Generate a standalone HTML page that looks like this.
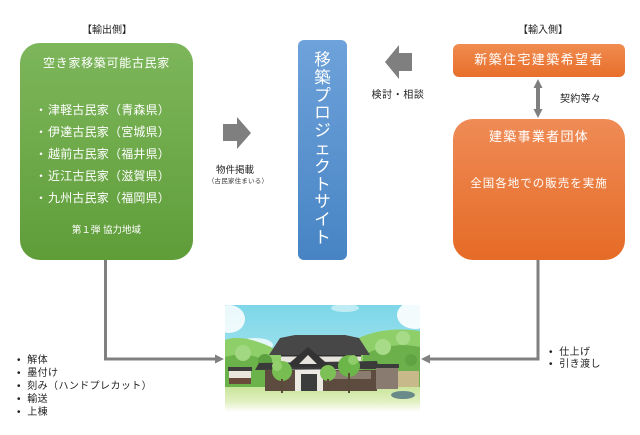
<!DOCTYPE html>
<html><head><meta charset="utf-8">
<style>
html,body{margin:0;padding:0;background:#fff;}
body{width:640px;height:435px;position:relative;overflow:hidden;font-family:"Liberation Sans","Noto Sans CJK JP",sans-serif;}
.a{position:absolute;white-space:nowrap;}
.box{position:absolute;}
.c{position:absolute;text-align:center;white-space:nowrap;}
.w{color:#fff;}
.k{color:#222;}
.li{position:relative;height:22px;}
.li .b{position:absolute;left:0;top:0;}
.li .t{position:absolute;left:13px;top:0;}
</style></head><body>

<svg class="a" style="left:0;top:0" width="640" height="435" viewBox="0 0 640 435">
  <polyline points="105.5,258 105.5,359 216,359" fill="none" stroke="#808080" stroke-width="3"/>
  <polygon points="224,359 215,354.5 215,363.5" fill="#808080"/>
  <polyline points="538,258 538,359 429,359" fill="none" stroke="#808080" stroke-width="3"/>
  <polygon points="421,359 430,354.5 430,363.5" fill="#808080"/>
  <rect x="223" y="124" width="15" height="17" fill="#7f7f7f"/>
  <polygon points="237,117 251,133 237,149" fill="#7f7f7f"/>
  <rect x="398" y="53" width="14" height="18" fill="#7f7f7f"/>
  <polygon points="399,45 385,62 399,79" fill="#7f7f7f"/>
  <rect x="536" y="86" width="4" height="25" fill="#7f7f7f"/>
  <polygon points="538,79 533.5,88 542.5,88" fill="#7f7f7f"/>
  <polygon points="538,118 533.5,109 542.5,109" fill="#7f7f7f"/>
</svg>

<div class="c k" style="left:67px;top:24px;width:80px;font-size:10px;line-height:14px;">【輸出側】</div>
<div class="c k" style="left:503px;top:24px;width:80px;font-size:10px;line-height:14px;">【輸入側】</div>
<div class="c k" style="left:358px;top:89px;width:80px;font-size:10px;line-height:14px;letter-spacing:0.6px;">検討・相談</div>
<div class="a k" style="left:560px;top:93px;font-size:10px;line-height:14px;letter-spacing:0.3px;">契約等々</div>
<div class="c k" style="left:199px;top:164px;width:72px;font-size:9.5px;line-height:13px;">物件掲載</div>
<div class="c" style="left:198px;top:177px;width:80px;font-size:6.5px;line-height:9px;color:#333;letter-spacing:0.2px;">（古民家住まいる）</div>

<!-- green box -->
<div class="box" style="left:20px;top:43px;width:173px;height:217px;border-radius:20px;background:linear-gradient(#7db65b,#5f9d39);"></div>
<div class="c w" style="left:20px;top:55px;width:173px;font-size:12px;line-height:16px;letter-spacing:0.7px;">空き家移築可能古民家</div>
<div class="a w" style="left:35px;top:101px;font-size:12px;line-height:18px;letter-spacing:0.2px;">
<div class="li"><span class="b">・</span><span class="t">津軽古民家（青森県）</span></div>
<div class="li"><span class="b">・</span><span class="t">伊達古民家（宮城県）</span></div>
<div class="li"><span class="b">・</span><span class="t">越前古民家（福井県）</span></div>
<div class="li"><span class="b">・</span><span class="t">近江古民家（滋賀県）</span></div>
<div class="li"><span class="b">・</span><span class="t">九州古民家（福岡県）</span></div>
</div>
<div class="c w" style="left:20px;top:224px;width:173px;font-size:9.5px;line-height:14px;">第１弾 協力地域</div>

<!-- blue box -->
<div class="box" style="left:298px;top:40px;width:49px;height:220px;border-radius:6px;background:linear-gradient(#6ea2da,#4784c4);"></div>
<div class="c w" style="left:298px;top:52px;width:49px;font-size:16.5px;line-height:17.8px;white-space:normal;">
移<br>築<br>プ<br>ロ<br>ジ<br>ェ<br>ク<br>ト<br>サ<br>イ<br>ト
</div>

<!-- orange boxes -->
<div class="box" style="left:453px;top:44px;width:172px;height:33px;border-radius:6px;background:linear-gradient(#f08c50,#e86e2a);"></div>
<div class="c w" style="left:453px;top:51px;width:172px;font-size:13px;line-height:18px;letter-spacing:1.4px;">新築住宅建築希望者</div>
<div class="box" style="left:453px;top:119px;width:172px;height:141px;border-radius:20px;background:linear-gradient(#ef8b56,#e56b26);"></div>
<div class="c w" style="left:453px;top:128px;width:172px;font-size:13px;line-height:18px;letter-spacing:1.3px;">建築事業者団体</div>
<div class="c w" style="left:453px;top:176px;width:172px;font-size:11.5px;line-height:16px;letter-spacing:1px;">全国各地での販売を実施</div>

<!-- bottom lists -->
<div class="a k" style="left:17px;top:354px;font-size:10px;line-height:13px;letter-spacing:0.4px;">
<div>•&nbsp; 解体</div>
<div>•&nbsp; 墨付け</div>
<div>•&nbsp; 刻み（ハンドプレカット）</div>
<div>•&nbsp; 輸送</div>
<div>•&nbsp; 上棟</div>
</div>
<div class="a k" style="left:549px;top:347px;font-size:10px;line-height:12px;letter-spacing:0.4px;">
<div>•&nbsp; 仕上げ</div>
<div>•&nbsp; 引き渡し</div>
</div>

<!-- house illustration -->
<svg class="a" style="left:225px;top:305px" width="195" height="107" viewBox="0 0 195 107">
  <defs>
    <linearGradient id="sky" x1="0" y1="0" x2="0" y2="1">
      <stop offset="0" stop-color="#7dd6e8"/>
      <stop offset="1" stop-color="#a5e4ee"/>
    </linearGradient>
    <linearGradient id="lawn" x1="0" y1="0" x2="0" y2="1">
      <stop offset="0" stop-color="#c9e59c"/>
      <stop offset="0.6" stop-color="#e2f0c2"/>
      <stop offset="1" stop-color="#ffffff"/>
    </linearGradient>
  </defs>
  <rect x="0" y="0" width="195" height="62" fill="url(#sky)"/>
  <ellipse cx="4" cy="14" rx="16" ry="14" fill="#fff" opacity="0.85"/>
  <ellipse cx="30" cy="40" rx="18" ry="7" fill="#fff" opacity="0.75"/>
  <ellipse cx="190" cy="10" rx="18" ry="14" fill="#fff" opacity="0.9"/>
  <ellipse cx="120" cy="3" rx="14" ry="4" fill="#fff" opacity="0.5"/>
  <!-- hills -->
  <path d="M0,35 C12,30 30,34 50,44 C58,48 62,52 62,58 L62,88 L0,88 Z" fill="#8fcf6a"/>
  <path d="M0,52 C18,46 36,52 52,60 L52,88 L0,88 Z" fill="#6cb24a"/>
  <path d="M128,36 C145,26 170,22 195,26 L195,88 L128,88 Z" fill="#8fcf69"/>
  <path d="M138,50 C158,40 178,38 195,42 L195,88 L138,88 Z" fill="#6cb04c"/>
  <circle cx="158" cy="42" r="8" fill="#a8db88"/>
  <circle cx="178" cy="33" r="7" fill="#a8db88"/>
  <circle cx="186" cy="55" r="6" fill="#5fa442"/>
  <circle cx="18" cy="48" r="8" fill="#a3d882"/>
  <circle cx="40" cy="56" r="7" fill="#5da040"/>
  <!-- lawn -->
  <rect x="0" y="82" width="195" height="25" fill="url(#lawn)"/>
  <!-- left small building -->
  <rect x="3" y="62" width="24" height="4" fill="#3d3d3d"/>
  <rect x="4" y="66" width="22" height="12" fill="#eae6de"/>
  <rect x="4" y="73" width="22" height="6" fill="#6a4a3a"/>
  <!-- house -->
  <polygon points="55,33 70,30 120,30 134,33 145,50 44,50" fill="#474747"/>
  <rect x="56" y="50" width="80" height="7" fill="#e8e4de"/>
  <rect x="56" y="50" width="80" height="1.5" fill="#2f2f2f"/>
  <polygon points="34,58 152,56 154,64 30,65" fill="#3a3a3a"/>
  <polygon points="83,42 60,62 106,62" fill="#333"/>
  <polygon points="83,50 74,59 92,59" fill="#e6e2dc"/>
  <rect x="40" y="65" width="112" height="21" fill="#5e4b40"/>
  <rect x="70" y="65" width="28" height="21" fill="#ece8e2"/>
  <rect x="76" y="69" width="16" height="17" fill="#3c3c3c"/>
  <rect x="106" y="66" width="40" height="8" fill="#8b7c70"/>
  <rect x="150" y="59" width="24" height="4" fill="#3b3b3b"/>
  <rect x="151" y="63" width="22" height="21" fill="#8a7b70"/>
  <rect x="173" y="66" width="21" height="16" fill="#c8b98a"/>
  <!-- trees -->
  <circle cx="57" cy="66" r="10" fill="#78bd52"/>
  <circle cx="52" cy="61" r="5" fill="#95d06e"/>
  <rect x="56" y="74" width="2" height="14" fill="#5a4a3a"/>
  <circle cx="103" cy="68" r="8" fill="#7cc056"/>
  <rect x="102" y="74" width="2" height="12" fill="#5a4a3a"/>
  <circle cx="124" cy="61" r="11" fill="#6cb548"/>
  <circle cx="128" cy="55" r="5" fill="#8fcc6a"/>
  <rect x="123" y="68" width="2" height="20" fill="#5a4a3a"/>
  <ellipse cx="178" cy="90" rx="12" ry="4" fill="#6a8a8a"/>
</svg>

</body></html>
